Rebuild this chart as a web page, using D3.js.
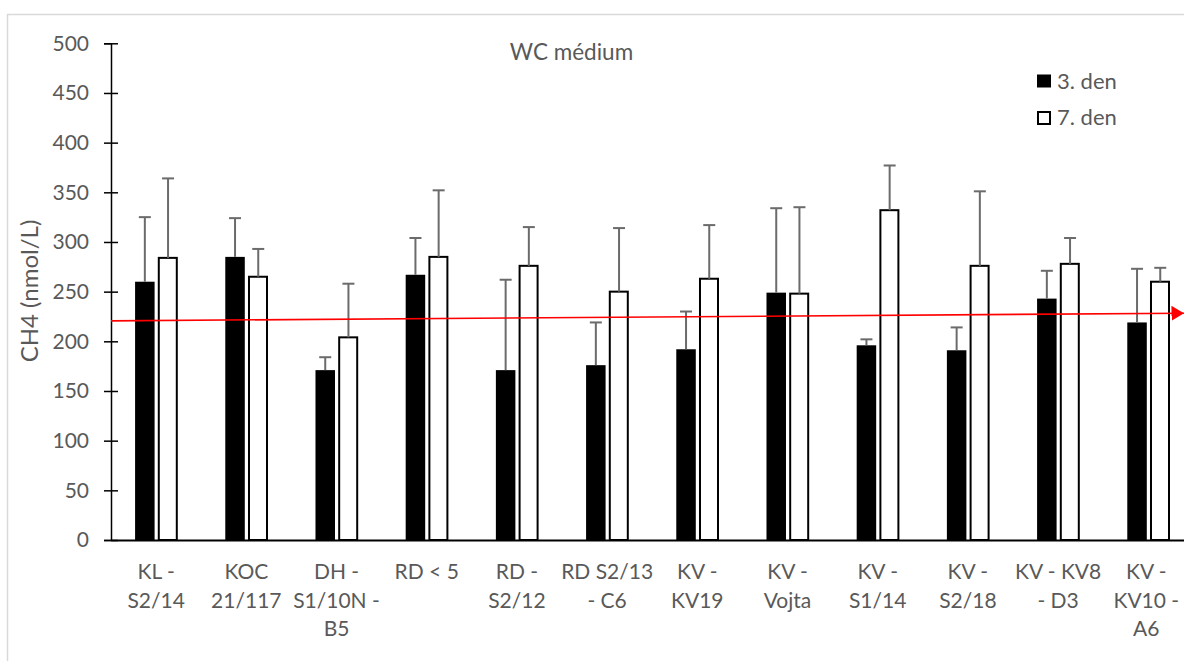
<!DOCTYPE html>
<html>
<head>
<meta charset="utf-8">
<script src="https://cdn.jsdelivr.net/npm/d3@7"></script>
<style>
  html, body { margin: 0; padding: 0; background: #fff; }
  svg { display: block; }
  text { font-family: Lato, "Open Sans", sans-serif; fill: #595959; }
</style>
</head>
<body>
<svg id="chart" width="1184" height="661"></svg>
<script>
// ---- data ----
const categories = ["KL - S2/14", "KOC 21/117", "DH - S1/10N - B5", "RD < 5", "RD - S2/12", "RD S2/13 - C6",
  "KV - KV19", "KV - Vojta", "KV - S1/14", "KV - S2/18", "KV - KV8 - D3", "KV - KV10 - A6"];
const tickLines = [["KL -", "S2/14"], ["KOC", "21/117"], ["DH -", "S1/10N -", "B5"], ["RD < 5"], ["RD -", "S2/12"],
  ["RD S2/13", "- C6"], ["KV -", "KV19"], ["KV -", "Vojta"], ["KV -", "S1/14"], ["KV -", "S2/18"],
  ["KV - KV8", "- D3"], ["KV -", "KV10 -", "A6"]];
const seriesNames = ["3. den", "7. den"];
const day3 = [260, 285, 171, 267, 171, 176, 192, 249, 196, 191, 243, 219];
const day3Err = [65, 39, 13, 37, 91, 43, 38, 85, 6, 23, 28, 54];
const day7 = [284, 265, 204, 285, 276, 250, 263, 248, 332, 276, 278, 260];
const day7Err = [80, 28, 54, 67, 39, 64, 54, 87, 45, 75, 26, 14];
const yTicks = [0, 50, 100, 150, 200, 250, 300, 350, 400, 450, 500];
const trendValues = [220.6, 228.3];
const chartTitle = "WC médium";
const yTitle = "CH4 (nmol/L)";

// ---- layout ----
const W = 1184, H = 661;
const svg = d3.select("#chart");
const plotLeft = 111, plotTop = 43.3, plotBottom = 540, step = 90.2;

svg.append("rect").attr("x", 7.5).attr("y", 14.5).attr("width", 1300).attr("height", 800)
  .attr("fill", "#fff").attr("stroke", "#d9d9d9").attr("stroke-width", 1.5);

const x0 = d3.scaleBand().domain(categories).range([plotLeft, plotLeft + step * categories.length]).padding(0);
const x1 = d3.scaleBand().domain(seriesNames)
  .range([x0.bandwidth() * 0.267, x0.bandwidth() * 0.735]).paddingInner(0.141).paddingOuter(0);
const y = d3.scaleLinear().domain([0, 500]).range([plotBottom, plotTop]);

const series = [
  { name: seriesNames[0], values: day3, errs: day3Err, fill: "#000", stroke: "none" },
  { name: seriesNames[1], values: day7, errs: day7Err, fill: "#fff", stroke: "#000" }
];

// bars
series.forEach(s => {
  const g = svg.append("g");
  g.selectAll("rect").data(categories).join("rect")
    .attr("x", (c) => x0(c) + x1(s.name) + (s.stroke === "none" ? 0 : 1))
    .attr("y", (c, i) => y(s.values[i]))
    .attr("width", x1.bandwidth() - (s.stroke === "none" ? 0 : 1.5))
    .attr("height", (c, i) => y(0) - y(s.values[i]))
    .attr("fill", s.fill)
    .attr("stroke", s.stroke)
    .attr("stroke-width", 2);
});

// error bars
series.forEach(s => {
  const g = svg.append("g").attr("stroke", "#6b6b6b").attr("stroke-width", 2);
  categories.forEach((c, i) => {
    const cx = x0(c) + x1(s.name) + x1.bandwidth() / 2 + (s.stroke === "none" ? 0 : 0.5);
    const top = y(s.values[i] + s.errs[i]);
    g.append("line").attr("x1", cx).attr("x2", cx).attr("y1", y(s.values[i])).attr("y2", top);
    g.append("line").attr("x1", cx - 6).attr("x2", cx + 6).attr("y1", top).attr("y2", top);
  });
});

// y axis
const yAxis = svg.append("g").attr("transform", `translate(${plotLeft},0)`)
  .call(d3.axisLeft(y).tickValues(yTicks).tickSize(7).tickPadding(15));
yAxis.select(".domain").attr("stroke", "#000").attr("stroke-width", 1.5);
yAxis.selectAll(".tick line").attr("x1", -7).attr("x2", 7).attr("stroke", "#000").attr("stroke-width", 1.5);
yAxis.selectAll(".tick text").style("font-family", "Lato").style("font-size", "21px").attr("fill", "#595959");

// x axis
const xAxis = svg.append("g").attr("transform", `translate(0,${plotBottom})`)
  .call(d3.axisBottom(x0).tickSize(0).tickFormat(""));
xAxis.select(".domain").attr("stroke", "#000").attr("stroke-width", 2);
xAxis.selectAll(".tick").each(function (c, i) {
  const t = d3.select(this).append("text").attr("text-anchor", "middle")
    .style("font-family", "Lato").style("font-size", "21px").attr("fill", "#595959");
  tickLines[i].forEach((ln, k) => {
    t.append("tspan").attr("x", i === categories.length - 1 ? -2 : 0).attr("y", 39 + k * 28.7).text(ln);
  });
});

// trend line with arrow
const defs = svg.append("defs");
defs.append("marker").attr("id", "arrow").attr("markerUnits", "userSpaceOnUse")
  .attr("markerWidth", 14).attr("markerHeight", 16).attr("refX", 12.5).attr("refY", 7.5)
  .attr("orient", "auto")
  .append("path").attr("d", "M0,0 L12.5,7.5 L0,15 Z").attr("fill", "#ff0000");
svg.append("line")
  .attr("x1", plotLeft).attr("y1", y(trendValues[0]))
  .attr("x2", W).attr("y2", y(trendValues[1]))
  .attr("stroke", "#ff0000").attr("stroke-width", 1.6)
  .attr("marker-end", "url(#arrow)");

// title
svg.append("text").attr("x", 571.5).attr("y", 60).attr("text-anchor", "middle")
  .style("font-size", "22.5px").text(chartTitle);

// y title
svg.append("text").attr("transform", "translate(38,291) rotate(-90)").attr("text-anchor", "middle")
  .style("font-size", "24px").text(yTitle);

// legend
const legend = svg.append("g");
series.forEach((s, i) => {
  const ly = 81 + i * 36.5;
  legend.append("rect").attr("x", s.stroke === "none" ? 1037 : 1038).attr("y", ly - 6.5 + (s.stroke === "none" ? 0 : 1))
    .attr("width", s.stroke === "none" ? 14 : 12).attr("height", s.stroke === "none" ? 13 : 12)
    .attr("fill", s.fill).attr("stroke", s.stroke).attr("stroke-width", 2);
  legend.append("text").attr("x", 1057).attr("y", ly).attr("dy", "0.36em")
    .style("font-size", "22px").text(s.name);
});
</script>
</body>
</html>
